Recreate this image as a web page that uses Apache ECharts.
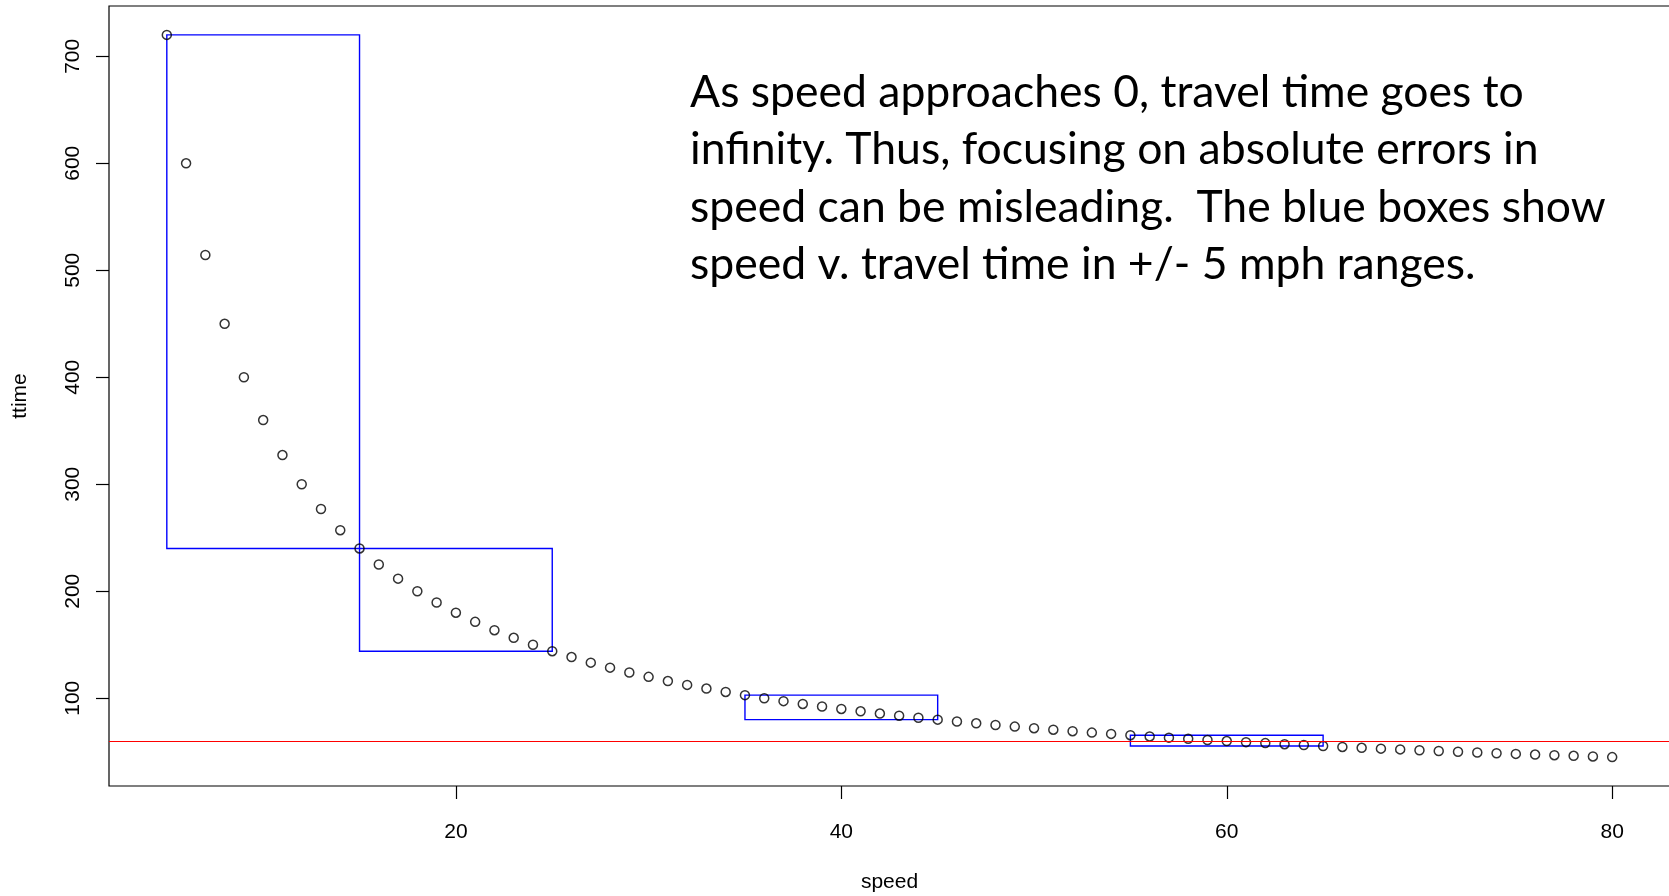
<!DOCTYPE html>
<html>
<head>
<meta charset="utf-8">
<script src="https://cdn.jsdelivr.net/npm/echarts@6/dist/echarts.min.js"></script>
<style>
html,body{margin:0;padding:0;background:#fff;}
#chart{width:1669px;height:896px;}
</style>
</head>
<body>
<div id="chart"></div>
<script>
// Data
const speed = [5,6,7,8,9,10,11,12,13,14,15,16,17,18,19,20,21,22,23,24,25,26,27,28,29,30,31,32,33,34,35,36,37,38,39,40,41,42,43,44,45,46,47,48,49,50,51,52,53,54,55,56,57,58,59,60,61,62,63,64,65,66,67,68,69,70,71,72,73,74,75,76,77,78,79,80];
const ttime = [720,600,514.3,450,400,360,327.3,300,276.9,257.1,240,225,211.8,200,189.5,180,171.4,163.6,156.5,150,144,138.5,133.3,128.6,124.1,120,116.1,112.5,109.1,105.9,102.9,100,97.3,94.7,92.3,90,87.8,85.7,83.7,81.8,80,78.3,76.6,75,73.5,72,70.6,69.2,67.9,66.7,65.5,64.3,63.2,62.1,61,60,59,58.1,57.1,56.3,55.4,54.5,53.7,52.9,52.2,51.4,50.7,50,49.3,48.6,48,47.4,46.8,46.2,45.6,45];
const boxSpeedLo = [5,15,35,55];
const boxSpeedHi = [15,25,45,65];
const boxTimeLo = [240,144,80,55.4];
const boxTimeHi = [720,240,102.9,65.5];
const refTime = 60;
const xTicks = [20,40,60,80];
const yTicks = [100,200,300,400,500,600,700];
const noteLines = [
  "As speed approaches 0, travel time goes to",
  "infinity. Thus, focusing on absolute errors in",
  "speed can be misleading.  The blue boxes show",
  "speed v. travel time in +/- 5 mph ranges."
];

const pts = speed.map((s,i)=>[s,ttime[i]]);
const boxes = boxSpeedLo.map((s,i)=>[s,boxSpeedHi[i],boxTimeLo[i],boxTimeHi[i]]);

const chart = echarts.init(document.getElementById('chart'), null, {renderer:'canvas'});
const axFont = {fontFamily:'"Liberation Sans", Arial, Helvetica, sans-serif', fontSize:21, color:'#000'};

chart.setOption({
  animation:false,
  backgroundColor:'#fff',
  grid:{left:109, top:6, width:1561, height:780, outerBoundsMode:'none', containLabel:false,
        show:true, borderColor:'#000', borderWidth:1.2, backgroundColor:'transparent'},
  xAxis:{
    type:'value', min:2, max:83,
    name:'speed', nameLocation:'middle', nameGap:86,
    nameTextStyle:axFont,
    splitLine:{show:false},
    axisLine:{show:false},
    axisTick:{show:true, customValues:xTicks, length:13, inside:false, lineStyle:{color:'#000', width:1.2}},
    axisLabel:Object.assign({customValues:xTicks, margin:36}, axFont)
  },
  yAxis:{
    type:'value', min:18, max:747,
    name:'ttime', nameLocation:'middle', nameGap:78, nameRotate:90,
    nameTextStyle:axFont,
    splitLine:{show:false},
    axisLine:{show:false},
    axisTick:{show:true, customValues:yTicks, length:13, lineStyle:{color:'#000', width:1.2}},
    axisLabel:Object.assign({customValues:yTicks, rotate:90, margin:25}, axFont)
  },
  graphic: noteLines.map((t,i)=>({
    type:'text', left:690, top:70 + i*57.4, z:10,
    style:{text:t, font:'400 44.5px Lato, "Open Sans", sans-serif', fill:'#000'}
  })),
  series:[
    {
      type:'custom',
      data:boxes,
      renderItem:function(params, api){
        const p1 = api.coord([api.value(0), api.value(3)]);
        const p2 = api.coord([api.value(1), api.value(2)]);
        return {type:'rect', shape:{x:p1[0], y:p1[1], width:p2[0]-p1[0], height:p2[1]-p1[1]},
          style:{fill:null, stroke:'#0000ff', lineWidth:1.4}};
      },
      encode:{x:[0,1], y:[2,3]},
      z:3, silent:true
    },
    {
      type:'scatter',
      data:pts,
      symbol:'circle', symbolSize:9,
      itemStyle:{color:'transparent', borderColor:'#000', borderWidth:1.5},
      z:4,
      markLine:{
        silent:true, symbol:['none','none'], label:{show:false},
        lineStyle:{color:'#ff0000', width:1.2, type:'solid'},
        data:[{yAxis:refTime}]
      }
    }
  ]
});
</script>
</body>
</html>
